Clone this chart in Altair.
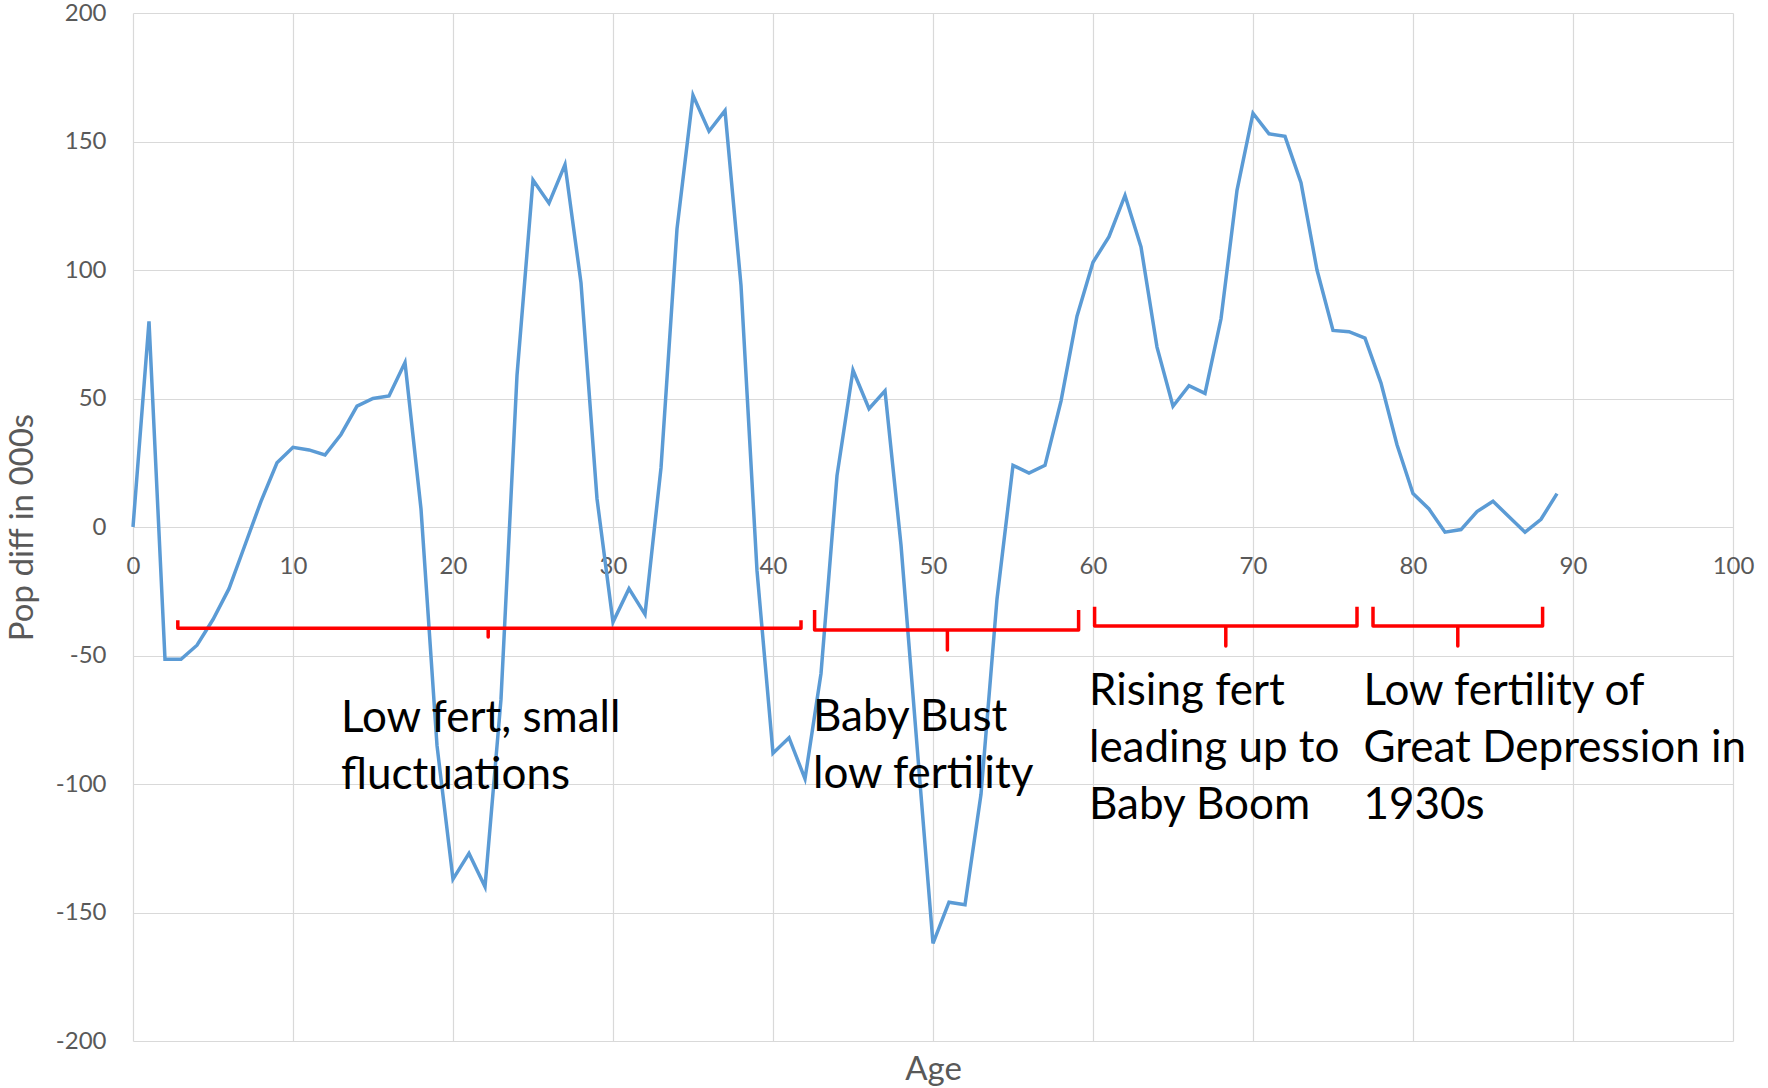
import altair as alt
import pandas as pd

# ---- data ----
ages = list(range(90))
pop_diff = [0, 80, -51.5, -51.5, -46, -36, -24, -7, 10, 25,
            31, 30, 28, 36, 47, 50, 51, 64, 7, -85,
            -137, -127, -140, -67, 59, 135, 126, 141, 95, 11,
            -37, -24, -34, 23, 116, 168, 154, 162, 94, -17,
            -88, -82, -98, -57, 20, 61, 46, 53, -7, -85,
            -162, -146, -147, -104, -28, 24, 21, 24, 49, 82,
            103, 113, 129, 109, 70, 47, 55, 52, 81, 131,
            161, 153, 152, 134, 100, 76.5, 76, 73.5, 56, 32,
            13, 7, -2, -1, 6, 10, 4, -2, 3, 13]

x_ticks = [0, 10, 20, 30, 40, 50, 60, 70, 80, 90, 100]
y_ticks = [-200, -150, -100, -50, 0, 50, 100, 150, 200]

# braces (in data units: ages and pop-diff values)
brace_start = [2.8, 42.6, 60.1, 77.5]
brace_end = [41.75, 59.1, 76.5, 88.1]
brace_mid = [22.2, 50.9, 68.3, 82.8]
brace_top = [-36.3, -32.3, -31.0, -31.0]
brace_line = [-39.4, -40.1, -38.5, -38.5]
brace_tip = [-42.8, -47.9, -46.3, -46.3]

labels = ["Low fert, small\nfluctuations",
          "Baby Bust\nlow fertility",
          "Rising fert\nleading up to\nBaby Boom",
          "Low fertility of\nGreat Depression in\n1930s"]
label_age = [13.0, 42.5, 59.75, 76.9]
label_val = [-79.7, -79.4, -69.3, -69.3]

# ---- tables ----
df = pd.DataFrame({"age": ages, "pop": pop_diff})

rows = []
for i in range(len(brace_start)):
    pts = [(brace_start[i], brace_top[i]),
           (brace_start[i], brace_line[i]),
           (brace_mid[i], brace_line[i]),
           (brace_mid[i], brace_tip[i]),
           (brace_mid[i], brace_line[i]),
           (brace_end[i], brace_line[i]),
           (brace_end[i], brace_top[i])]
    for k, (a, v) in enumerate(pts):
        rows.append({"brace": i, "k": k, "age": a, "pop": v})
braces = pd.DataFrame(rows)

ann = pd.DataFrame({"text": labels, "age": label_age, "pop": label_val})

FONT = "Lato"
GRID = "#d9d9d9"
AXC = "#595959"

xscale = alt.Scale(domain=[0, 100], nice=False)
yscale = alt.Scale(domain=[-200, 200], nice=False)

x_enc = alt.X("age:Q", scale=xscale,
              axis=alt.Axis(values=x_ticks, grid=True, gridColor=GRID, gridWidth=1.2,
                            ticks=False, tickSize=0, domain=False,
                            labelFont=FONT, labelFontSize=24, labelColor=AXC,
                            labelPadding=27, offset=-514, labelFlush=False,
                            labelOverlap=False,
                            title="Age", titleFont=FONT, titleFontSize=33,
                            titleColor=AXC, titleFontWeight="normal",
                            titleY=542, titleBaseline="middle"))
y_enc = alt.Y("pop:Q", scale=yscale,
              axis=alt.Axis(values=y_ticks, grid=True, gridColor=GRID, gridWidth=1.2,
                            ticks=False, tickSize=0, domain=False,
                            labelFont=FONT, labelFontSize=24, labelColor=AXC,
                            labelPadding=27, labelExpr="'' + datum.value",
                            labelFlush=False, labelOverlap=False,
                            title="Pop diff in 000s", titleFont=FONT, titleFontSize=33,
                            titleColor=AXC, titleFontWeight="normal",
                            titleX=-111, titleY=514, titleBaseline="middle",
                            titleAlign="center"))

line = alt.Chart(df).mark_line(color="#5B9BD5", strokeWidth=3.5).encode(x=x_enc, y=y_enc)

brace = alt.Chart(braces).mark_line(color="#FF0000", strokeWidth=3.5, strokeJoin="round").encode(
    x="age:Q", y="pop:Q", detail="brace:N", order="k:Q")

text = alt.Chart(ann).mark_text(align="left", baseline="alphabetic", font=FONT, fontSize=44,
                                lineBreak="\n", lineHeight=57, color="black").encode(
    x="age:Q", y="pop:Q", text="text:N")

chart = alt.layer(line, brace, text).properties(
    width=1600, height=1028,
    autosize=alt.AutoSizeParams(type="none"),
    padding={"left": 133, "top": 13, "right": 35, "bottom": 47},
    background="white",
).configure_view(strokeWidth=0)

chart.save("out.html", embed_options={"renderer": "svg", "actions": False})
